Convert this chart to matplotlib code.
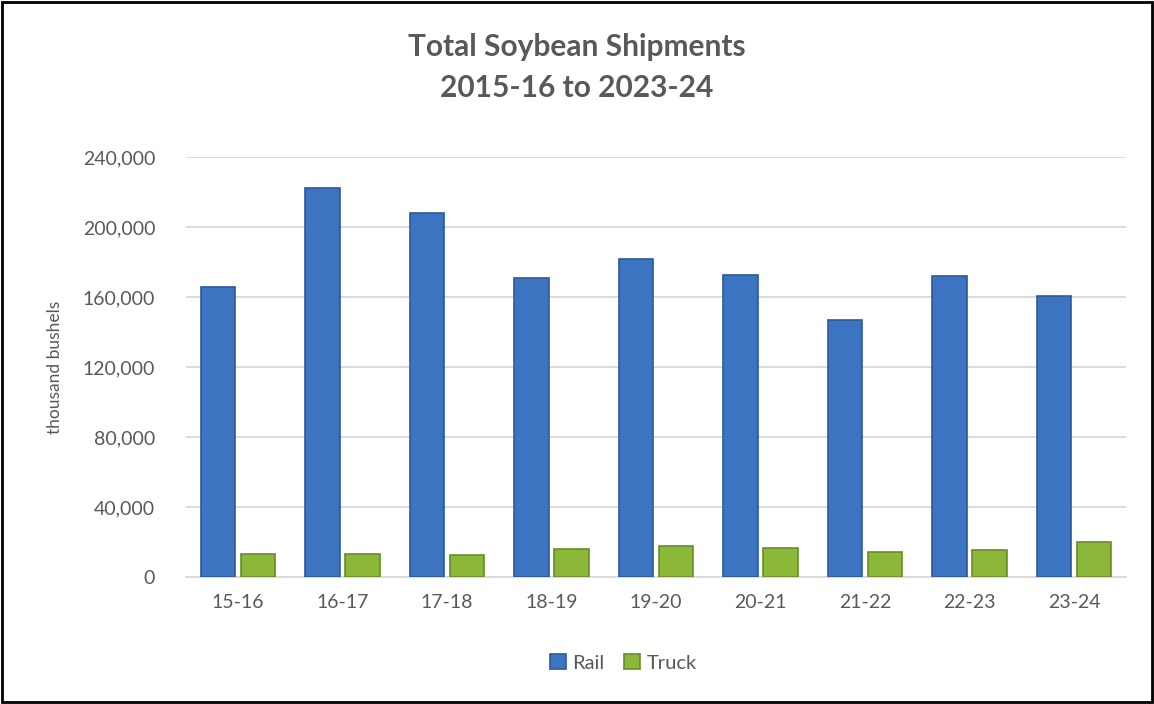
import matplotlib.pyplot as plt
import numpy as np
from matplotlib.patches import Rectangle

plt.rcParams['font.family'] = ['Lato', 'DejaVu Sans']

# data
seasons = ["15-16", "16-17", "17-18", "18-19", "19-20", "20-21", "21-22", "22-23", "23-24"]
rail = [166000, 222500, 208000, 171000, 181500, 172500, 147000, 172000, 160500]
truck = [13100, 13100, 12600, 16000, 17700, 16600, 14300, 15400, 20000]
yticks = [0, 40000, 80000, 120000, 160000, 200000, 240000]

txt = "#595959"
fig = plt.figure(figsize=(11.54, 7.04), dpi=100)
ax = fig.add_axes([0.161, 0.180, 0.815, 0.597])

x = np.arange(len(seasons))
w = 0.33
ax.bar(x - 0.19, rail, w, color="#3c74c2", edgecolor="#2d5a9a", linewidth=1.2, label="Rail", zorder=3)
ax.bar(x + 0.19, truck, w, color="#8cb83a", edgecolor="#6a8c26", linewidth=1.2, label="Truck", zorder=3)

ax.set_xlim(-0.5, len(seasons) - 0.5)
ax.set_ylim(0, 240000)
ax.set_yticks(yticks)
ax.set_yticklabels([f"{v:,}" for v in yticks])
ax.set_xticks(x)
ax.set_xticklabels(seasons)
ax.tick_params(axis="both", length=0, labelsize=14, colors=txt)
ax.tick_params(axis="x", pad=12)
ax.tick_params(axis="y", pad=22)
ax.grid(axis="y", color="#d9d9d9", linewidth=1.3, zorder=0)
for s in ["top", "right", "left"]:
    ax.spines[s].set_visible(False)
ax.spines["bottom"].set_color("#d9d9d9")
ax.spines["bottom"].set_linewidth(1.3)
ax.set_ylabel("thousand bushels", fontsize=12.5, color=txt, labelpad=14)

fig.suptitle("Total Soybean Shipments\n2015-16 to 2023-24", y=0.953, fontsize=21.5,
             fontweight="bold", color=txt, linespacing=1.55)

fig.legend(loc="lower center", bbox_to_anchor=(0.54, 0.02), ncol=2, frameon=False,
           fontsize=14.5, labelcolor=txt, handlelength=0.8, handleheight=0.8,
           handletextpad=0.3, columnspacing=1.0)

fig.patches.append(Rectangle((0.002, 0.003), 0.996, 0.994, transform=fig.transFigure,
                             fill=False, edgecolor="black", linewidth=2))

fig.savefig("out.png", dpi=100)
